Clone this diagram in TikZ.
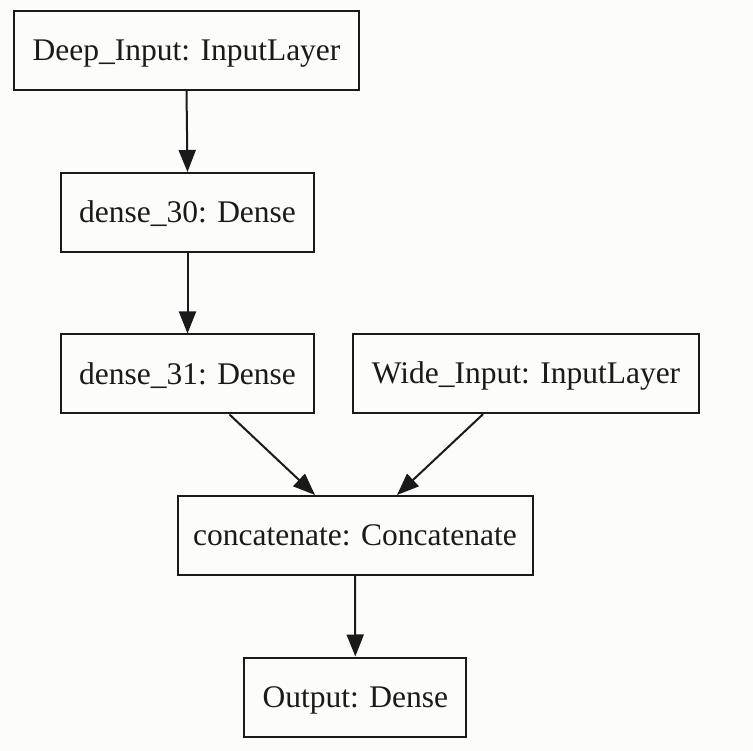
\documentclass[tikz,border=0pt]{standalone}
\usepackage{fontspec}
\setmainfont{Liberation Serif}
\usetikzlibrary{arrows.meta}
\definecolor{paper}{HTML}{FCFCFA}
\definecolor{ink}{HTML}{1A1A1A}
\begin{document}
\begin{tikzpicture}[x=1pt,y=-1pt,
  layer/.style={draw=ink,line width=2pt,fill=paper,inner sep=0pt,
    minimum height=79pt,text=ink,text height=20.5pt,text depth=0pt,
    font=\fontsize{31.5}{34}\selectfont},
  flow/.style={draw=ink,line width=2pt,
    -{Triangle[length=22pt,width=17pt]}}]
  % page
  \fill[paper] (0,0) rectangle (753,751);
  \useasboundingbox (0,0) rectangle (753,751);
  % layers
  \node[layer,minimum width=345pt] (deep) at (186.5,50.5) {Deep\_Input: InputLayer};
  \node[layer,minimum width=253pt] (d30) at (187.5,212.5) {dense\_30: Dense};
  \node[layer,minimum width=253pt] (d31) at (187.5,374) {dense\_31: Dense};
  \node[layer,minimum width=346pt] (wide) at (526,373.7) {Wide\_Input: InputLayer};
  \node[layer,minimum width=355pt] (concat) at (355,535.5) {concatenate: Concatenate};
  \node[layer,minimum width=222pt] (out) at (355.3,697) {Output: Dense};
  % connections
  \draw[flow] (deep.south) -- (d30.north);
  \draw[flow] (d30.south) -- (d31.north);
  \draw[flow] ([xshift=42pt]d31.south) -- ([xshift=-40pt]concat.north);
  \draw[flow] ([xshift=-43pt]wide.south) -- ([xshift=42pt]concat.north);
  \draw[flow] (concat.south) -- (out.north);
\end{tikzpicture}
\end{document}
